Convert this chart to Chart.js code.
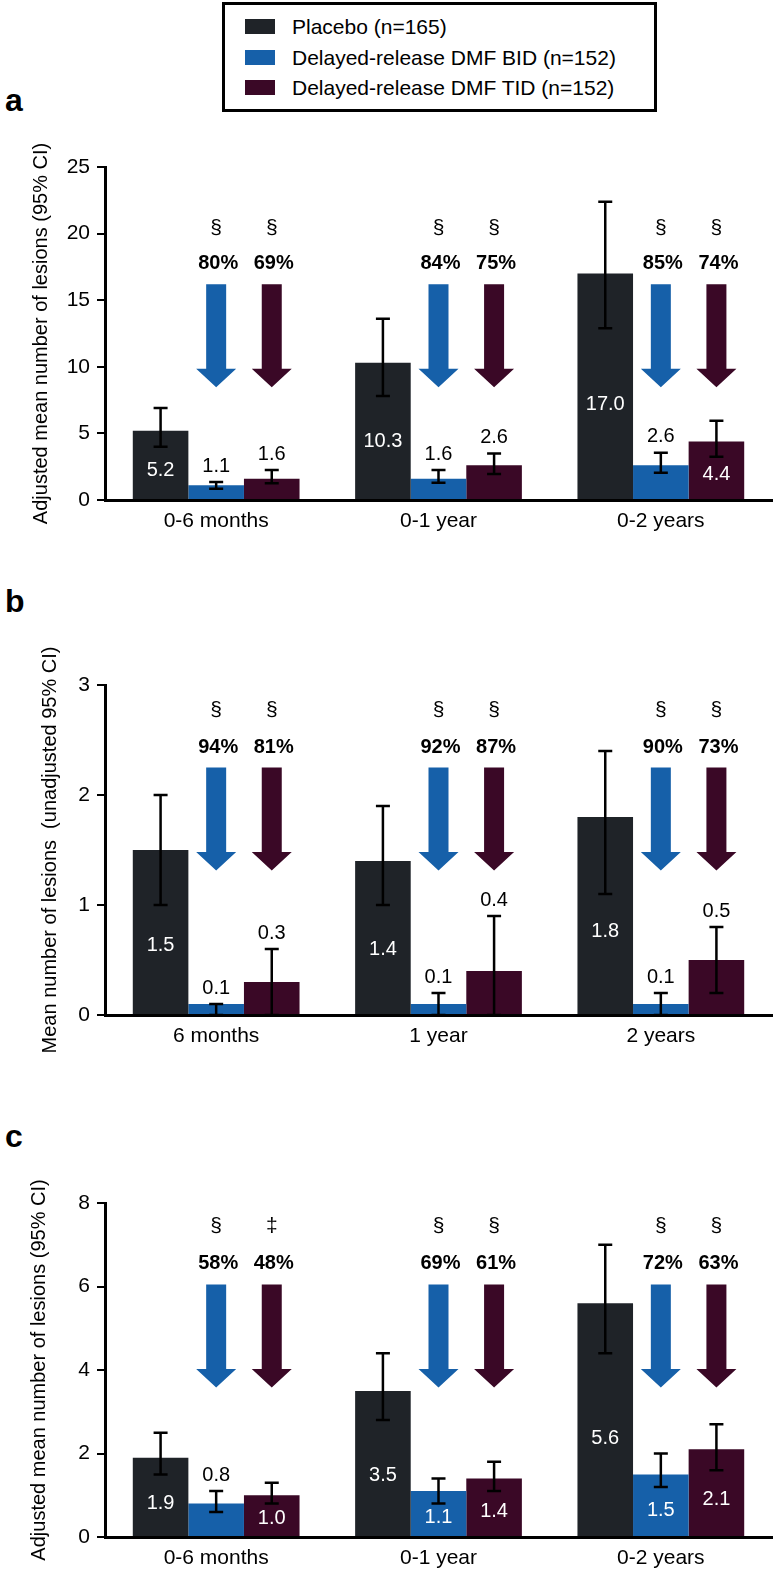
<!DOCTYPE html>
<html>
<head>
<meta charset="utf-8">
<script src="https://cdn.jsdelivr.net/npm/chart.js@4.4.0/dist/chart.umd.min.js"></script>
<style>
  body { margin: 0; width: 774px; height: 1580px; position: relative; background: #fff; overflow: hidden;
         font-family: "Liberation Sans", Arial, sans-serif; color: #000; }
  .legend { position: absolute; left: 222px; top: 2px; width: 429px; height: 104px; border: 3px solid #000; }
  .row { position: absolute; left: 20px; height: 30px; line-height: 30px; font-size: 21px; white-space: nowrap; }
  .sw { display: inline-block; width: 30px; height: 15px; vertical-align: middle; margin-right: 17px; position: relative; top: -2px; }
  .letter { position: absolute; left: 5px; font-weight: bold; font-size: 32px; line-height: 32px; }
  .panel { position: absolute; left: 0; width: 774px; }
</style>
</head>
<body>
<div class="legend">
  <div class="row" style="top:7px"><span class="sw" style="background:#1f2328"></span><span id="lg0"></span></div>
  <div class="row" style="top:38px"><span class="sw" style="background:#1660a9"></span><span id="lg1"></span></div>
  <div class="row" style="top:68px"><span class="sw" style="background:#3a0826"></span><span id="lg2"></span></div>
</div>
<div class="letter" style="top:84px">a</div>
<div class="letter" style="top:585px">b</div>
<div class="letter" style="top:1120px">c</div>

<div class="panel" style="top:120px;height:440px"><canvas id="chartA" width="774" height="440"></canvas></div>
<div class="panel" style="top:620px;height:460px"><canvas id="chartB" width="774" height="460"></canvas></div>
<div class="panel" style="top:1150px;height:430px"><canvas id="chartC" width="774" height="430"></canvas></div>

<script>
// series / categories
const seriesNames = ['Placebo (n=165)', 'Delayed-release DMF BID (n=152)', 'Delayed-release DMF TID (n=152)'];
const seriesColors = ['#1f2328', '#1660a9', '#3a0826'];
const periodsA = ['0-6 months', '0-1 year', '0-2 years'];
const periodsB = ['6 months', '1 year', '2 years'];

// panel a
const placeboA = [5.2, 10.3, 17.0];
const placeboA_lo = [4.0, 7.8, 12.9];
const placeboA_hi = [6.9, 13.6, 22.4];
const bidA = [1.1, 1.6, 2.6];
const bidA_lo = [0.85, 1.3, 2.05];
const bidA_hi = [1.35, 2.25, 3.55];
const tidA = [1.6, 2.6, 4.4];
const tidA_lo = [1.25, 1.95, 3.25];
const tidA_hi = [2.25, 3.5, 5.95];
const reductionA_bid = ['80%', '84%', '85%'];
const reductionA_tid = ['69%', '75%', '74%'];
const markA_bid = ['§', '§', '§'];
const markA_tid = ['§', '§', '§'];

// panel b
const placeboB = [1.5, 1.4, 1.8];
const placeboB_lo = [1.0, 1.0, 1.1];
const placeboB_hi = [2.0, 1.9, 2.4];
const bidB = [0.1, 0.1, 0.1];
const bidB_lo = [0, 0, 0];
const bidB_hi = [0.1, 0.2, 0.2];
const tidB = [0.3, 0.4, 0.5];
const tidB_lo = [0, 0, 0.2];
const tidB_hi = [0.6, 0.9, 0.8];
const reductionB_bid = ['94%', '92%', '90%'];
const reductionB_tid = ['81%', '87%', '73%'];
const markB_bid = ['§', '§', '§'];
const markB_tid = ['§', '§', '§'];

// panel c
const placeboC = [1.9, 3.5, 5.6];
const placeboC_lo = [1.5, 2.8, 4.4];
const placeboC_hi = [2.5, 4.4, 7.0];
const bidC = [0.8, 1.1, 1.5];
const bidC_lo = [0.6, 0.8, 1.2];
const bidC_hi = [1.1, 1.4, 2.0];
const tidC = [1.0, 1.4, 2.1];
const tidC_lo = [0.8, 1.1, 1.6];
const tidC_hi = [1.3, 1.8, 2.7];
const reductionC_bid = ['58%', '69%', '72%'];
const reductionC_tid = ['48%', '61%', '63%'];
const markC_bid = ['§', '§', '§'];
const markC_tid = ['‡', '§', '§'];

seriesNames.forEach((n, i) => document.getElementById('lg' + i).textContent = n);

const FONT = '"Liberation Sans", Arial, sans-serif';

// error bars, value labels, arrows and y title
const panelExtras = {
  id: 'panelExtras',
  afterDatasetsDraw(chart, args, opts) {
    const ctx = chart.ctx;
    const ys = chart.scales.y;
    const area = chart.chartArea;
    ctx.save();
    ctx.textAlign = 'center';
    ctx.textBaseline = 'middle';
    chart.data.datasets.forEach((ds, di) => {
      const meta = chart.getDatasetMeta(di);
      meta.data.forEach((bar, i) => {
        const x = bar.x;
        const yHi = ys.getPixelForValue(opts.hi[di][i]);
        const yLo = ys.getPixelForValue(opts.lo[di][i]);
        ctx.strokeStyle = '#000';
        ctx.lineWidth = 2.5;
        ctx.beginPath();
        ctx.moveTo(x, yHi); ctx.lineTo(x, yLo);
        ctx.moveTo(x - 7, yHi); ctx.lineTo(x + 7, yHi);
        ctx.moveTo(x - 7, yLo); ctx.lineTo(x + 7, yLo);
        ctx.stroke();

        const h = bar.base - bar.y;
        const txt = ds.data[i].toFixed(1);
        ctx.font = '20px ' + FONT;
        if (di === 0 || h > opts.insideMinPx) {
          ctx.fillStyle = '#fff';
          ctx.fillText(txt, x, bar.base - Math.max(0.42 * h, 16));
        } else {
          ctx.fillStyle = '#000';
          ctx.fillText(txt, x, yHi - 16);
        }

        if (di > 0) {
          const top = ys.getPixelForValue(opts.arrowTopY);
          const tip = top + 103;
          const neck = tip - 18.5;
          ctx.fillStyle = ds.backgroundColor;
          ctx.beginPath();
          ctx.moveTo(x - 10, top); ctx.lineTo(x + 10, top); ctx.lineTo(x + 10, neck);
          ctx.lineTo(x + 20, neck); ctx.lineTo(x, tip); ctx.lineTo(x - 20, neck);
          ctx.lineTo(x - 10, neck); ctx.closePath();
          ctx.fill();
          ctx.fillStyle = '#000';
          ctx.font = 'bold 20px ' + FONT;
          ctx.fillText(opts.pct[di - 1][i], x + 2, ys.getPixelForValue(opts.pctY));
          ctx.font = '21px ' + FONT;
          ctx.fillText(opts.marks[di - 1][i], x, ys.getPixelForValue(opts.markY));
        }
      });
    });
    // rotated axis title
    ctx.translate(opts.titleX, (area.top + area.bottom) / 2);
    ctx.rotate(-Math.PI / 2);
    ctx.font = '20px ' + FONT;
    ctx.fillStyle = '#000';
    ctx.fillText(opts.title, 0, 0);
    ctx.restore();
  }
};

function makePanel(id, labels, values, lo, hi, pct, marks, cfg) {
  new Chart(document.getElementById(id), {
    type: 'bar',
    data: {
      labels: labels,
      datasets: values.map((v, i) => ({
        label: seriesNames[i],
        data: v,
        backgroundColor: seriesColors[i],
        borderWidth: 0,
        categoryPercentage: 0.75,
        barPercentage: 1.0
      }))
    },
    options: {
      responsive: false,
      animation: false,
      layout: { padding: { top: cfg.padTop, bottom: cfg.padBottom, left: 0, right: 2 } },
      plugins: {
        legend: { display: false },
        tooltip: { enabled: false },
        panelExtras: {
          lo: lo, hi: hi, pct: pct, marks: marks,
          markY: cfg.markY, pctY: cfg.pctY, arrowTopY: cfg.arrowTopY,
          insideMinPx: cfg.insideMinPx, title: cfg.title, titleX: cfg.titleX
        }
      },
      scales: {
        x: {
          grid: { display: false, drawTicks: false },
          border: { display: true, color: '#000', width: 3 },
          ticks: { color: '#000', padding: 9, font: { family: FONT, size: 21 } },
          afterFit: s => { s.height = 40; }
        },
        y: {
          min: 0, max: cfg.max,
          ticks: { stepSize: cfg.step, color: '#000', padding: 7, font: { family: FONT, size: 21 } },
          grid: { drawOnChartArea: false, drawTicks: true, tickLength: 8, color: '#000', lineWidth: 2 },
          border: { display: true, color: '#000', width: 3 },
          afterFit: s => { s.width = 105; }
        }
      }
    },
    plugins: [panelExtras]
  });
}

makePanel('chartA', periodsA, [placeboA, bidA, tidA],
  [placeboA_lo, bidA_lo, tidA_lo], [placeboA_hi, bidA_hi, tidA_hi],
  [reductionA_bid, reductionA_tid], [markA_bid, markA_tid],
  { max: 25, step: 5, padTop: 47, padBottom: 20, markY: 20.4, pctY: 17.75, arrowTopY: 16.2,
    insideMinPx: 38, title: 'Adjusted mean number of lesions (95% CI)', titleX: 41 });

makePanel('chartB', periodsB, [placeboB, bidB, tidB],
  [placeboB_lo, bidB_lo, tidB_lo], [placeboB_hi, bidB_hi, tidB_hi],
  [reductionB_bid, reductionB_tid], [markB_bid, markB_tid],
  { max: 3, step: 1, padTop: 65, padBottom: 25, markY: 2.77, pctY: 2.43, arrowTopY: 2.25,
    insideMinPx: 1000, title: 'Mean number of lesions  (unadjusted 95% CI)', titleX: 50 });

makePanel('chartC', periodsA, [placeboC, bidC, tidC],
  [placeboC_lo, bidC_lo, tidC_lo], [placeboC_hi, bidC_hi, tidC_hi],
  [reductionC_bid, reductionC_tid], [markC_bid, markC_tid],
  { max: 8, step: 2, padTop: 53, padBottom: 3, markY: 7.44, pctY: 6.56, arrowTopY: 6.05,
    insideMinPx: 38, title: 'Adjusted mean number of lesions (95% CI)', titleX: 39 });
</script>
</body>
</html>
